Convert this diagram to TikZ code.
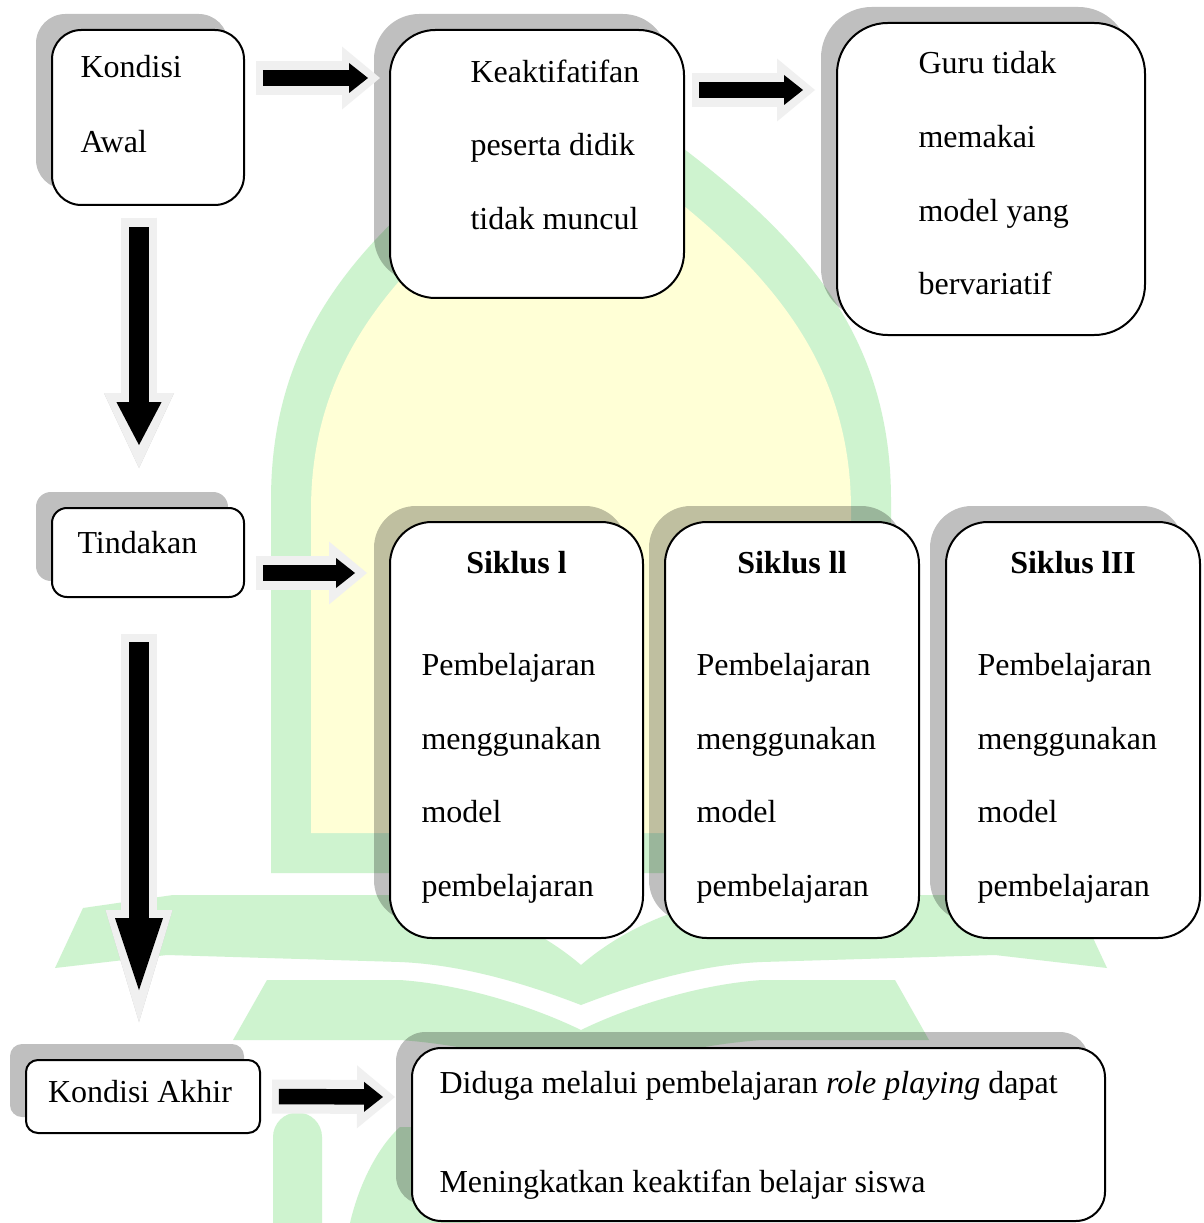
\documentclass[tikz,border=0pt]{standalone}
\usepackage{fontspec}
\setmainfont{Liberation Serif}
\usetikzlibrary{
  positioning,
  fit,
  calc,
  shadows,
  arrows.meta
}
\definecolor{logogreen}{RGB}{206,243,207}
\definecolor{logoyellow}{RGB}{255,255,214}
\definecolor{rimgray}{RGB}{240,240,240}
\definecolor{rimshade}{RGB}{200,200,200}

\tikzset{
  box/.style={draw, line width=0.75pt, fill=white, inner sep=0pt, outer sep=0pt, rounded corners=#1,
    drop shadow={shadow xshift=-6pt, shadow yshift=6pt, fill=black, opacity=0.25}},
  txt/.style={anchor=base west, inner sep=0pt},
  title/.style={anchor=base, inner sep=0pt, font=\fontsize{12pt}{14pt}\selectfont\bfseries},
  hrim/.style={draw=rimgray, line width=12.75pt, -{Triangle[width=23.6pt, length=14.25pt, line width=0pt]}},
  hblk/.style={draw=black, line width=5.8pt, shorten <=2.6pt, shorten >=4.5pt,
    -{Triangle[width=11.25pt, length=7.1pt, line width=0pt]}}
}

\begin{document}
\begin{tikzpicture}[x=0.375pt,y=-0.375pt,font=\fontsize{12pt}{14pt}\selectfont]
  \useasboundingbox (0,0) rectangle (1203,1223);
  \fill[white] (0,0) rectangle (1203,1223);

  % logo behind the diagram
  \fill[logogreen] (271,873) -- (271,500) .. controls (271,300) and (400,200) .. (581,75)
    .. controls (762,200) and (891,300) .. (891,500) -- (891,873) -- cycle;
  \fill[logoyellow] (311,833) -- (311,510) .. controls (311,340) and (420,240) .. (581,130)
    .. controls (742,240) and (851,340) .. (851,510) -- (851,833) -- cycle;
  \fill[logogreen] (83,908) -- (173,895) -- (400,895) .. controls (480,900) and (540,930) .. (581,965)
    .. controls (622,930) and (682,900) .. (762,895) -- (990,895) -- (1079,908) -- (1107,968)
    -- (995,955) -- (762,962) .. controls (690,965) and (620,990) .. (581,1005)
    .. controls (542,990) and (472,965) .. (400,962) -- (167,955) -- (55,968) -- cycle;
  \fill[logogreen] (267,980) -- (400,980) .. controls (470,985) and (540,1010) .. (581,1030)
    .. controls (622,1010) and (692,985) .. (762,980) -- (895,980) -- (929,1040)
    -- (762,1040) .. controls (690,1045) and (620,1065) .. (581,1080)
    .. controls (542,1065) and (472,1045) .. (400,1040) -- (233,1040) -- cycle;
  \fill[logogreen] (273,1223) -- (273,1137) arc (180:360:24.5) -- (322,1223) -- cycle;
  \fill[logogreen] (350,1223) .. controls (360,1180) and (380,1145) .. (400,1127) -- (480,1127) -- (480,1223) -- cycle;

  % boxes
  \node[box=11pt, fit={(52,30) (244,205)}] (kawal) {};
  \node[box=17pt, fit={(390,30) (684,298)}] (keak) {};
  \node[box=19pt, fit={(837,23) (1145,335)}] (guru) {};
  \node[box=5.6pt, fit={(52,508) (244,597)}] (tind) {};
  \node[box=15.7pt, fit={(390,522) (643,938)}] (s1) {};
  \node[box=15.7pt, fit={(665,522) (919,938)}] (s2) {};
  \node[box=15.7pt, fit={(946,522) (1200,938)}] (s3) {};
  \node[box=4.5pt, fit={(26,1060) (260,1133)}] (akhir) {};
  \node[box=11pt, fit={(412,1048) (1105,1221)}] (hasil) {};

  % texts
  \node[txt] (kawal-1) at ($(kawal.north west)+(28,48)$) {Kondisi};
  \node[txt] (kawal-2) at ($(kawal.north west)+(28,123)$) {Awal};
  \foreach \w [count=\i] in {Keaktifatifan, peserta didik, tidak muncul}
    \node[txt] (keak-\i) at ($(keak.north west)+(80,-21+73.5*\i)$) {\w};
  \foreach \w [count=\i] in {Guru tidak, memakai, model yang, bervariatif}
    \node[txt] (guru-\i) at ($(guru.north west)+(81,-23+73.7*\i)$) {\w};
  \node[txt] (tind-1) at ($(tind.north west)+(25,45)$) {Tindakan};
  \foreach \n/\t in {s1/Siklus l, s2/Siklus ll, s3/Siklus lII} {
    \node[title] (\n-t) at ($(\n.north)+(0,51)$) {\t};
    \foreach \w [count=\i] in {Pembelajaran, menggunakan, model, pembelajaran}
      \node[txt] (\n-\i) at ($(\n.north west)+(31,80+73.5*\i)$) {\w};
  }
  \node[anchor=base, inner sep=0pt] (akhir-1) at ($(akhir.north)+(-3,42)$) {Kondisi Akhir};
  \node[txt] (hasil-1) at ($(hasil.north west)+(27,45)$) {Diduga melalui pembelajaran \textit{role playing} dapat};
  \node[txt] (hasil-2) at ($(hasil.north west)+(27,144)$) {Meningkatkan keaktifan belajar siswa};

  % block arrows
  \coordinate (h1s) at ($(kawal.north east)+(12,48)$);
  \coordinate (h1e) at ($(keak.north west)+(-10,48)$);
  \coordinate (h2s) at ($(keak.north east)+(8,60)$);
  \coordinate (h2e) at ($(guru.north west)+(-22,67)$);
  \coordinate (h3s) at ($(tind.south east)+(12,-24)$);
  \coordinate (h3e) at ($(s1.north west)+(-23,51)$);
  \coordinate (h4s) at ($(akhir.east)+(12,0)$);
  \coordinate (h4e) at ($(hasil.north west)+(-17,49)$);
  \foreach \a/\b in {h1s/h1e, h2s/h2e, h3s/h3e, h4s/h4e} {
    \draw[hrim] (\a) -- (\b);
    \draw[hblk] (\a) -- (\b);
  }

  \coordinate (v1s) at ($(kawal.south)+(-9,13)$);
  \coordinate (v1e) at ($(tind.north)+(-9,-40)$);
  \coordinate (v2s) at ($(tind.south)+(-9,37)$);
  \coordinate (v2e) at ($(akhir.north)+(-4,-38)$);
  \draw[draw=rimshade, line width=13.5pt, xshift=1.1pt, -{Triangle[width=26.25pt, length=28.1pt, line width=0pt]}] (v1s) -- (v1e);
  \draw[draw=rimgray, line width=13.5pt, -{Triangle[width=26.25pt, length=28.1pt, line width=0pt]}] (v1s) -- (v1e);
  \draw[draw=black, line width=7.5pt, shorten <=3.4pt, shorten >=8.6pt, -{Triangle[width=16.9pt, length=16.1pt, line width=0pt]}] (v1s) -- (v1e);
  \draw[draw=rimshade, line width=13.5pt, xshift=1.1pt, -{Triangle[width=25.1pt, length=42pt, line width=0pt]}] (v2s) -- (v2e);
  \draw[draw=rimgray, line width=13.5pt, -{Triangle[width=25.1pt, length=42pt, line width=0pt]}] (v2s) -- (v2e);
  \draw[draw=black, line width=7.5pt, shorten <=3pt, shorten >=12pt, -{Triangle[width=18pt, length=27pt, line width=0pt]}] (v2s) -- (v2e);
\end{tikzpicture}
\end{document}
